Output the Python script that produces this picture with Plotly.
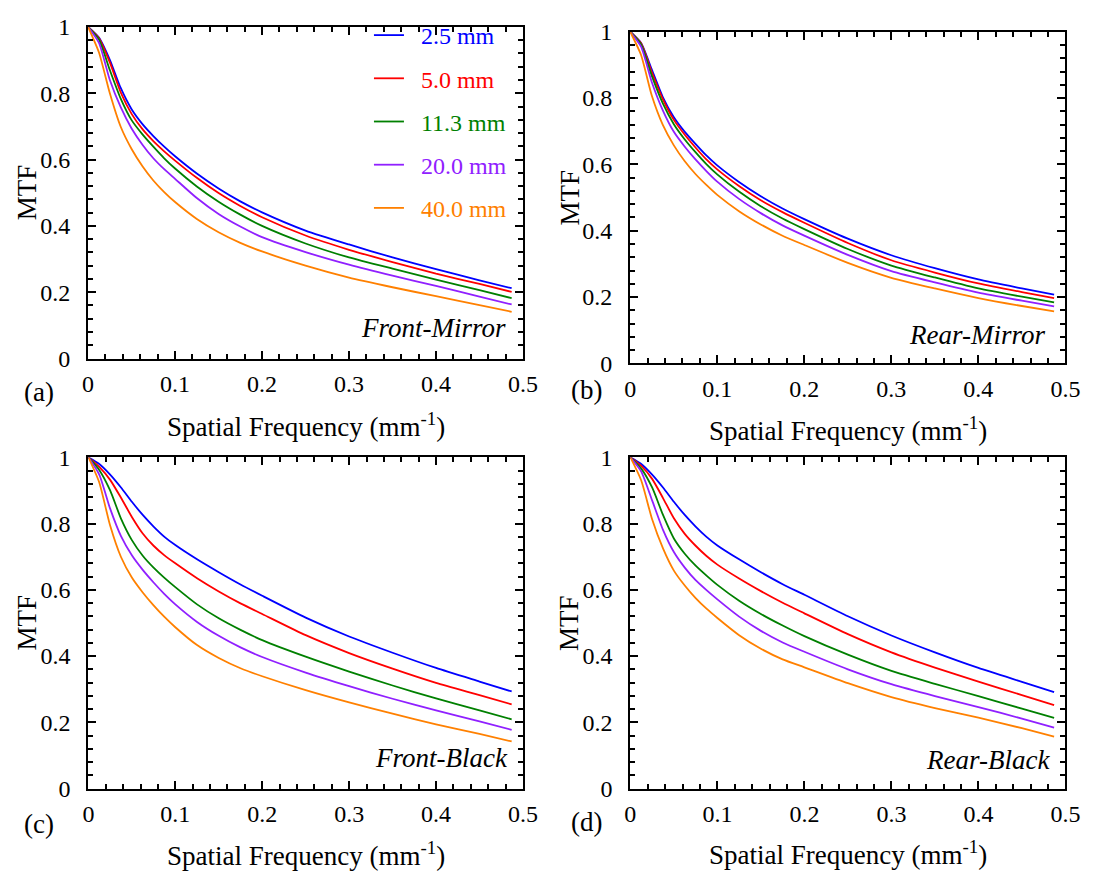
import plotly.graph_objects as go

# ---------------- data ----------------
freq = [0, 0.0125, 0.025, 0.0375, 0.05, 0.0625, 0.075, 0.0875, 0.1, 0.125, 0.15,
        0.175, 0.2, 0.25, 0.3, 0.35, 0.4, 0.45, 0.487]

series_names = ["2.5 mm", "5.0 mm", "11.3 mm", "20.0 mm", "40.0 mm"]
series_colors = ["#0000FF", "#FF0000", "#008000", "#9020FF", "#FF8000"]

# (a) Front-Mirror
fm_2_5 = [1, .968, .901, .816, .752, .707, .671, .639, .610, .558, .513, .474, .441, .386, .344, .305, .270, .236, .212]
fm_5_0 = [1, .966, .893, .803, .738, .692, .656, .625, .597, .545, .499, .460, .426, .371, .328, .291, .256, .225, .201]
fm_11_3 = [1, .962, .870, .784, .719, .676, .639, .604, .573, .519, .473, .434, .400, .347, .305, .271, .238, .206, .182]
fm_20_0 = [1, .952, .840, .758, .694, .645, .604, .571, .542, .484, .436, .398, .366, .321, .283, .250, .219, .187, .163]
fm_40_0 = [1, .923, .800, .699, .632, .580, .537, .502, .472, .421, .381, .349, .323, .280, .244, .215, .188, .161, .141]

# (b) Rear-Mirror
rm_2_5 = [1, .966, .885, .803, .743, .699, .662, .627, .597, .547, .504, .467, .435, .376, .326, .287, .253, .226, .207]
rm_5_0 = [1, .965, .877, .797, .735, .690, .651, .615, .585, .535, .492, .456, .424, .363, .311, .274, .241, .215, .197]
rm_11_3 = [1, .962, .866, .784, .722, .676, .637, .601, .570, .518, .474, .437, .405, .345, .295, .259, .226, .201, .184]
rm_20_0 = [1, .955, .847, .763, .699, .654, .615, .580, .548, .496, .453, .416, .385, .327, .278, .244, .213, .189, .172]
rm_40_0 = [1, .930, .806, .719, .658, .610, .571, .538, .508, .459, .419, .385, .357, .303, .258, .226, .197, .173, .157]

# (c) Front-Black
fb_2_5 = [1, .980, .948, .909, .866, .826, .791, .760, .735, .692, .653, .616, .582, .516, .459, .410, .364, .323, .293]
fb_5_0 = [1, .971, .932, .878, .820, .770, .733, .704, .680, .635, .595, .559, .527, .463, .409, .362, .319, .282, .254]
fb_11_3 = [1, .962, .900, .815, .750, .703, .667, .636, .608, .556, .514, .479, .448, .398, .353, .311, .272, .236, .209]
fb_20_0 = [1, .948, .845, .762, .704, .660, .622, .587, .556, .503, .461, .426, .397, .350, .309, .271, .236, .203, .177]
fb_40_0 = [1, .924, .794, .699, .637, .592, .553, .518, .487, .433, .394, .363, .339, .297, .260, .226, .194, .165, .142]

# (d) Rear-Black
rb_2_5 = [1, .980, .948, .909, .866, .826, .791, .760, .734, .692, .653, .617, .585, .520, .462, .411, .364, .322, .291]
rb_5_0 = [1, .974, .935, .877, .816, .769, .733, .702, .676, .634, .596, .561, .529, .466, .411, .365, .323, .282, .252]
rb_11_3 = [1, .966, .909, .826, .755, .709, .673, .643, .615, .567, .527, .492, .460, .404, .355, .316, .279, .241, .213]
rb_20_0 = [1, .957, .870, .781, .714, .667, .629, .599, .571, .519, .476, .441, .413, .360, .315, .279, .246, .211, .184]
rb_40_0 = [1, .930, .813, .725, .658, .613, .575, .543, .515, .463, .422, .390, .366, .318, .276, .243, .214, .182, .157]

panels = [
    ("x", "y", [fm_2_5, fm_5_0, fm_11_3, fm_20_0, fm_40_0]),
    ("x2", "y2", [rm_2_5, rm_5_0, rm_11_3, rm_20_0, rm_40_0]),
    ("x3", "y3", [fb_2_5, fb_5_0, fb_11_3, fb_20_0, fb_40_0]),
    ("x4", "y4", [rb_2_5, rb_5_0, rb_11_3, rb_20_0, rb_40_0]),
]
panel_titles = ["Front-Mirror", "Rear-Mirror", "Front-Black", "Rear-Black"]
panel_letters = ["(a)", "(b)", "(c)", "(d)"]

x_tickvals = [0, 0.1, 0.2, 0.3, 0.4, 0.5]
x_ticktext = ["0", "0.1", "0.2", "0.3", "0.4", "0.5"]
y_tickvals = [0, 0.2, 0.4, 0.6, 0.8, 1.0]
y_ticktext = ["0", "0.2", "0.4", "0.6", "0.8", "1"]

# ---------------- layout geometry (pixels) ----------------
W, H = 1102, 884
FONT = "Liberation Serif, Times New Roman, serif"
# frames: (left, right, top, bottom)
frames = [
    (83.7, 527.0, 14.4, 356.0),
    (636.3, 1080.0, 19.3, 361.0),
    (84.0, 527.0, 457.8, 799.0),
    (636.5, 1080.0, 457.8, 799.0),
]

def px(xp):
    return xp / W

def py(yp):
    return 1 - yp / H

fig = go.Figure()

for pi, (xa, ya, ys) in enumerate(panels):
    for si, yvals in enumerate(ys):
        fig.add_trace(go.Scatter(
            x=freq, y=yvals, mode="lines", xaxis=xa, yaxis=ya,
            line=dict(color=series_colors[si], width=1.8, shape="spline", smoothing=0.6),
            name="\u2002<span style='color:%s'>%s</span>" % (series_colors[si], series_names[si]),
            legendgroup=series_names[si],
            showlegend=(pi == 0),
        ))

axis_common = dict(
    showline=True, linecolor="black", linewidth=2, mirror="allticks",
    ticks="inside", ticklen=8, tickwidth=1.5, tickcolor="black",
    showgrid=False, zeroline=False,
    tickfont=dict(family=FONT, size=24, color="black"),
)

layout_axes = {}
for i, (l, r, t, b) in enumerate(frames):
    sx = "" if i == 0 else str(i + 1)
    layout_axes["xaxis" + sx] = dict(
        axis_common, domain=[px(l), px(r)], range=[0, 0.5], anchor="y" + sx,
        tickvals=x_tickvals, ticktext=x_ticktext, ticklabelstandoff=3,
        minor=dict(ticks="inside", ticklen=5, tickwidth=1.5, tickcolor="black", dtick=0.02, tick0=0),
    )
    layout_axes["yaxis" + sx] = dict(
        axis_common, domain=[py(b), py(t)], range=[0, 1], anchor="x" + sx,
        tickvals=y_tickvals, ticktext=y_ticktext, ticklabelstandoff=11,
        minor=dict(ticks="inside", ticklen=5, tickwidth=1.5, tickcolor="black", dtick=0.04, tick0=0),
    )

annotations = []
letter_pos = [(34, 390), (592, 388), (34, 836), (592, 834)]
xtitle_y = [424, 429, 866, 865]
mtf_x = [21, 574, 21, 574]
name_pos = [(512, 325), (1061, 332), (514, 768), (1066, 770)]
for i, (l, r, t, b) in enumerate(frames):
    annotations.append(dict(
        text=panel_letters[i], x=px(letter_pos[i][0]), y=py(letter_pos[i][1]),
        xref="paper", yref="paper", showarrow=False, xanchor="center", yanchor="middle",
        font=dict(family=FONT, size=27, color="black")))
    annotations.append(dict(
        text="Spatial Frequency (mm<sup>-1</sup>)", x=px((l + r) / 2), y=py(xtitle_y[i]),
        xref="paper", yref="paper", showarrow=False, xanchor="center", yanchor="middle",
        font=dict(family=FONT, size=27, color="black")))
    annotations.append(dict(
        text="MTF", x=px(mtf_x[i]), y=py((t + b) / 2), textangle=-90,
        xref="paper", yref="paper", showarrow=False, xanchor="center", yanchor="middle",
        font=dict(family=FONT, size=27, color="black")))
    annotations.append(dict(
        text="<i>%s</i>" % panel_titles[i], x=px(name_pos[i][0]), y=py(name_pos[i][1]),
        xref="paper", yref="paper", showarrow=False, xanchor="right", yanchor="middle",
        font=dict(family=FONT, size=27, color="black")))

fig.update_layout(
    width=W, height=H,
    margin=dict(l=0, r=0, t=0, b=0),
    paper_bgcolor="white", plot_bgcolor="white",
    showlegend=True,
    legend=dict(
        x=px(370), y=1.0, xanchor="left", yanchor="top",
        bgcolor="rgba(0,0,0,0)", borderwidth=0,
        font=dict(family=FONT, size=24, color="black"),
        traceorder="grouped", tracegroupgap=9, itemwidth=30,
    ),
    annotations=annotations,
    **layout_axes,
)

fig.write_html("out.html")
